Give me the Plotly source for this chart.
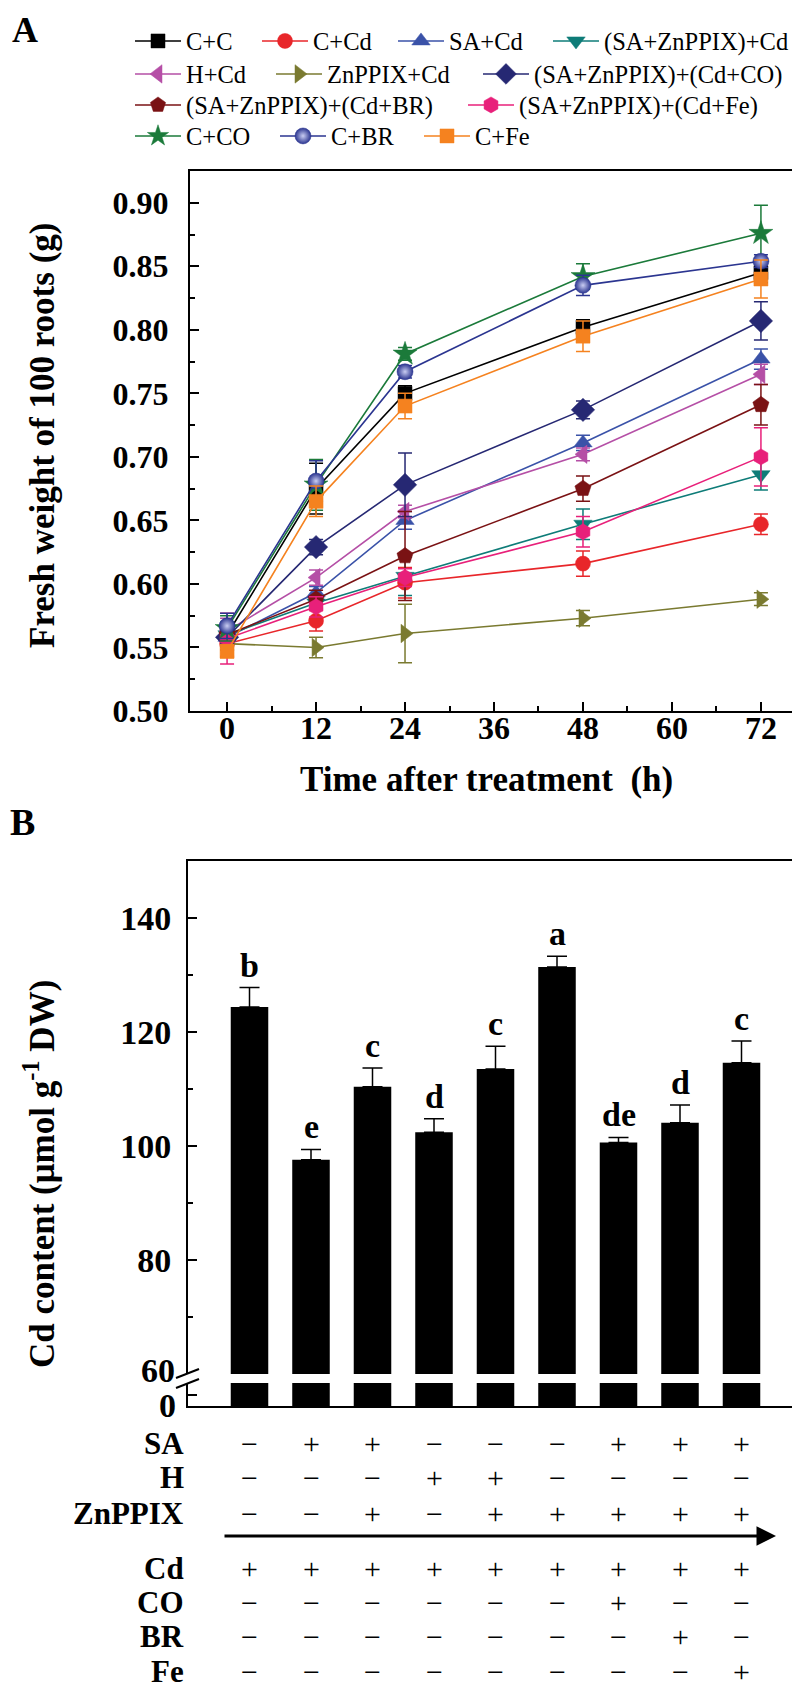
import plotly.graph_objects as go

W, H = 800, 1687
FONT = "Liberation Serif"

def px(x):
    return x / W

def py(y):
    return 1 - y / H

# ---------------- Panel A data ----------------
times = [0, 12, 24, 48, 72]

cc = [0.560, 0.675, 0.750, 0.802, 0.845]
cc_err = [0.008, 0.020, 0.006, 0.006, 0.008]
ccd = [0.553, 0.571, 0.601, 0.616, 0.647]
ccd_err = [0.010, 0.008, 0.012, 0.010, 0.008]
sacd = [0.558, 0.593, 0.650, 0.711, 0.777]
sacd_err = [0.010, 0.005, 0.007, 0.006, 0.008]
sazcd = [0.560, 0.585, 0.606, 0.647, 0.686]
sazcd_err = [0.010, 0.005, 0.015, 0.012, 0.012]
hcd = [0.563, 0.605, 0.657, 0.702, 0.765]
hcd_err = [0.010, 0.006, 0.005, 0.005, 0.008]
zcd = [0.553, 0.550, 0.561, 0.573, 0.588]
zcd_err = [0.005, 0.008, 0.023, 0.006, 0.005]
saz_co = [0.558, 0.629, 0.678, 0.737, 0.807]
saz_co_err = [0.005, 0.006, 0.025, 0.007, 0.015]
saz_br = [0.560, 0.588, 0.622, 0.675, 0.741]
saz_br_err = [0.005, 0.007, 0.035, 0.010, 0.016]
saz_fe = [0.557, 0.582, 0.605, 0.641, 0.700]
saz_fe_err = [0.020, 0.008, 0.007, 0.012, 0.023]
c_co = [0.565, 0.678, 0.781, 0.842, 0.876]
c_co_err = [0.010, 0.020, 0.005, 0.010, 0.022]
c_br = [0.567, 0.681, 0.767, 0.835, 0.854]
c_br_err = [0.010, 0.016, 0.005, 0.008, 0.005]
c_fe = [0.547, 0.665, 0.740, 0.795, 0.840]
c_fe_err = [0.005, 0.012, 0.010, 0.012, 0.015]

# name, values, errors, colour, symbol, size, legend, legendwidth
series = [
    ("C+C", cc, cc_err, "#000000", "square", 14, "legend", 66),
    ("C+Cd", ccd, ccd_err, "#E8262A", "circle", 15, "legend", 75),
    ("SA+Cd", sacd, sacd_err, "#3A52A8", "triangle-up", 16, "legend", 94),
    ("(SA+ZnPPIX)+Cd", sazcd, sazcd_err, "#0E7C78", "triangle-down", 16, "legend", None),
    ("H+Cd", hcd, hcd_err, "#B54FA6", "triangle-left", 16, "legend2", 80),
    ("ZnPPIX+Cd", zcd, zcd_err, "#7A7A30", "triangle-right", 16, "legend2", 146),
    ("(SA+ZnPPIX)+(Cd+CO)", saz_co, saz_co_err, "#262873", "diamond", 18, "legend2", None),
    ("(SA+ZnPPIX)+(Cd+BR)", saz_br, saz_br_err, "#7A1214", "pentagon", 17, "legend3", 272),
    ("(SA+ZnPPIX)+(Cd+Fe)", saz_fe, saz_fe_err, "#E8207A", "hexagon", 16, "legend3", None),
    ("C+CO", c_co, c_co_err, "#1B7A3A", "star", 18, "legend4", 84),
    ("C+BR", c_br, c_br_err, "#2B3590", "circle", 16, "legend4", 83),
    ("C+Fe", c_fe, c_fe_err, "#F5821F", "square", 14, "legend4", None),
]

# ---------------- Panel B data ----------------
treatments = [1, 2, 3, 4, 5, 6, 7, 8, 9]
cd_content = [124.4, 97.6, 110.4, 102.4, 113.5, 131.4, 100.6, 104.1, 114.6]
cd_err = [3.4, 1.8, 3.3, 2.4, 4.0, 1.9, 0.9, 3.1, 3.8]
letters = ["b", "e", "c", "d", "c", "a", "de", "d", "c"]
ytick_b = [60, 80, 100, 120, 140]

row_labels = ["SA", "H", "ZnPPIX", "Cd", "CO", "BR", "Fe"]
row_signs = [
    "-++---+++",
    "---++----",
    "--+-+++++",
    "+++++++++",
    "------+--",
    "-------+-",
    "--------+",
]
row_ypx = [1435, 1469, 1505, 1560, 1594, 1628, 1663]

fig = go.Figure()

for name, vals, errs, col, sym, size, leg, lw in series:
    marker = dict(symbol=sym, size=size, color=col, line=dict(width=0.5, color=col))
    if name == "C+BR":
        marker["gradient"] = dict(type="radial", color="#C9CDF2")
    tr = go.Scatter(
        x=times, y=vals, name=name, mode="lines+markers",
        line=dict(color=col, width=1.6),
        marker=marker,
        error_y=dict(type="data", array=errs, visible=True, color=col,
                     thickness=1.5, width=7),
        legend=leg, xaxis="x", yaxis="y",
    )
    if lw is not None:
        tr.legendwidth = lw
    fig.add_trace(tr)

# Panel B bars (upper part with break, lower stub)
fig.add_trace(go.Bar(
    x=treatments, y=cd_content, marker=dict(color="black", line=dict(width=0)),
    width=0.61, showlegend=False, xaxis="x2", yaxis="y2",
    error_y=dict(type="data", symmetric=False, array=cd_err,
                 arrayminus=[0] * len(cd_err), color="black",
                 thickness=1.5, width=10),
))
fig.add_trace(go.Bar(
    x=treatments, y=cd_content, base=-1,
    marker=dict(color="black", line=dict(width=0)),
    width=0.61, showlegend=False, xaxis="x3", yaxis="y3",
))

annotations = []
# significance letters
for xv, v, e, lt in zip(treatments, cd_content, cd_err, letters):
    annotations.append(dict(
        x=xv, y=v + e, xref="x2", yref="y2", text=lt, showarrow=False,
        yanchor="bottom", yshift=2,
        font=dict(family=FONT, size=34, color="black", weight="bold"),
    ))

# tick labels at the axis break (placed on the axis scales)
annotations += [
    dict(x=px(169), y=ytick_b[0], xref="paper", yref="y2", text=str(ytick_b[0]),
         showarrow=False, xanchor="right", yanchor="middle", yshift=4,
         font=dict(family=FONT, size=34, color="black", weight="bold")),
    dict(x=px(170), y=0, xref="paper", yref="y3", text="0",
         showarrow=False, xanchor="right", yanchor="middle", yshift=-11,
         font=dict(family=FONT, size=34, color="black", weight="bold")),
]

# treatment table
for lab, signs, ypix in zip(row_labels, row_signs, row_ypx):
    annotations.append(dict(
        x=px(178), y=py(ypix), xref="paper", yref="paper", text=lab,
        showarrow=False, xanchor="right", yanchor="middle",
        font=dict(family=FONT, size=31, color="black", weight="bold"),
    ))
    for xv, s in zip(treatments, signs):
        annotations.append(dict(
            x=xv, y=py(ypix), xref="x2", yref="paper",
            text="+" if s == "+" else "\u2212",
            showarrow=False, xanchor="center", yanchor="middle",
            font=dict(family=FONT, size=30, color="black"),
        ))

# arrow under ZnPPIX row
annotations.append(dict(
    x=px(768), y=py(1528), ax=-(768 - 215), ay=0,
    xref="paper", yref="paper", axref="pixel", ayref="pixel",
    text="", showarrow=True, arrowhead=2, arrowsize=1.3, arrowwidth=3,
    arrowcolor="black",
))

# axis titles and panel letters
annotations += [
    dict(x=px(478), y=py(772), xref="paper", yref="paper",
         xanchor="center", yanchor="middle",
         text="Time after treatment\u00a0 (h)", showarrow=False,
         font=dict(family=FONT, size=35, color="black", weight="bold")),
    dict(x=px(34), y=py(428), xref="paper", yref="paper",
         xanchor="center", yanchor="middle",
         text="Fresh weight of 100 roots (g)", textangle=-90, showarrow=False,
         font=dict(family=FONT, size=35, color="black", weight="bold")),
    dict(x=px(31), y=py(1166), xref="paper", yref="paper",
         xanchor="center", yanchor="middle",
         text="Cd content (\u03bcmol g<sup>-1</sup> DW)", textangle=-90,
         showarrow=False,
         font=dict(family=FONT, size=35, color="black", weight="bold")),
    dict(x=px(17), y=1, xref="paper", yref="paper", text="A",
         xanchor="center", yanchor="top", showarrow=False,
         font=dict(family=FONT, size=36, color="black", weight="bold")),
    dict(x=px(14), y=py(814), xref="paper", yref="paper", text="B",
         xanchor="center", yanchor="middle", showarrow=False,
         font=dict(family=FONT, size=38, color="black", weight="bold")),
]

# axis break marks
shapes = [
    dict(type="line", xref="paper", yref="paper",
         x0=px(168), y0=py(1370), x1=px(191), y1=py(1361),
         line=dict(color="black", width=2)),
    dict(type="line", xref="paper", yref="paper",
         x0=px(168), y0=py(1380), x1=px(191), y1=py(1371),
         line=dict(color="black", width=2)),
]

tickfont_a = dict(family=FONT, size=32, color="black", weight="bold")
tickfont_b = dict(family=FONT, size=34, color="black", weight="bold")

leg_common = dict(orientation="h", xanchor="left", yanchor="middle",
                  font=dict(family=FONT, size=24.5, color="black"),
                  itemwidth=46, bgcolor="rgba(0,0,0,0)", traceorder="normal",
                  x=px(122))

fig.update_layout(
    width=W, height=H,
    margin=dict(l=0, r=0, t=0, b=0, autoexpand=False),
    paper_bgcolor="white", plot_bgcolor="white",
    font=dict(family=FONT, color="black"),
    annotations=annotations, shapes=shapes,
    legend=dict(leg_common, y=py(33)),
    legend2=dict(leg_common, y=py(66)),
    legend3=dict(leg_common, y=py(97)),
    legend4=dict(leg_common, y=py(128)),
    xaxis=dict(domain=[px(182), px(790)], anchor="y", range=[-5, 77],
               tickvals=[0, 12, 24, 36, 48, 60, 72],
               ticks="inside", ticklen=9, tickwidth=2, tickcolor="black",
               minor=dict(dtick=6, tick0=0, ticks="inside", ticklen=5,
                          tickwidth=2, tickcolor="black", showgrid=False),
               showline=True, linewidth=2, linecolor="black", mirror=True,
               showgrid=False, zeroline=False, tickfont=tickfont_a,
               ticklabelstandoff=-12),
    yaxis=dict(domain=[py(703), py(163)], anchor="x", range=[0.5, 0.925],
               tickvals=[0.50, 0.55, 0.60, 0.65, 0.70, 0.75, 0.80, 0.85, 0.90],
               tickformat=".2f",
               ticks="inside", ticklen=9, tickwidth=2, tickcolor="black",
               minor=dict(dtick=0.025, tick0=0.5, ticks="inside", ticklen=5,
                          tickwidth=2, tickcolor="black", showgrid=False),
               showline=True, linewidth=2, linecolor="black", mirror=True,
               showgrid=False, zeroline=False, tickfont=tickfont_a,
               ticklabelstandoff=13),
    xaxis2=dict(domain=[px(180), px(795)], anchor="y2", range=[0, 10],
                side="top", showticklabels=False, ticks="",
                showline=True, linewidth=2, linecolor="black", mirror=False,
                showgrid=False, zeroline=False),
    yaxis2=dict(domain=[py(1366), py(853)], anchor="x2", range=[60, 150],
                tickvals=ytick_b,
                ticktext=[""] + [str(v) for v in ytick_b[1:]],
                ticks="inside", ticklen=9, tickwidth=2, tickcolor="black",
                minor=dict(dtick=10, tick0=60, ticks="inside", ticklen=5,
                           tickwidth=2, tickcolor="black", showgrid=False),
                showline=True, linewidth=2, linecolor="black", mirror=True,
                showgrid=False, zeroline=False, tickfont=tickfont_b,
                ticklabelstandoff=8),
    xaxis3=dict(domain=[px(180), px(795)], anchor="y3", range=[0, 10],
                matches="x2", showticklabels=False, ticks="",
                showline=True, linewidth=2, linecolor="black", mirror=False,
                showgrid=False, zeroline=False),
    yaxis3=dict(domain=[py(1398), py(1375)], anchor="x3", range=[-1, 1],
                tickvals=[0], showticklabels=False,
                ticks="inside", ticklen=9, tickwidth=2, tickcolor="black",
                showline=True, linewidth=2, linecolor="black", mirror=True,
                showgrid=False, zeroline=False),
    bargap=0.39,
)

fig.write_html("out.html")
